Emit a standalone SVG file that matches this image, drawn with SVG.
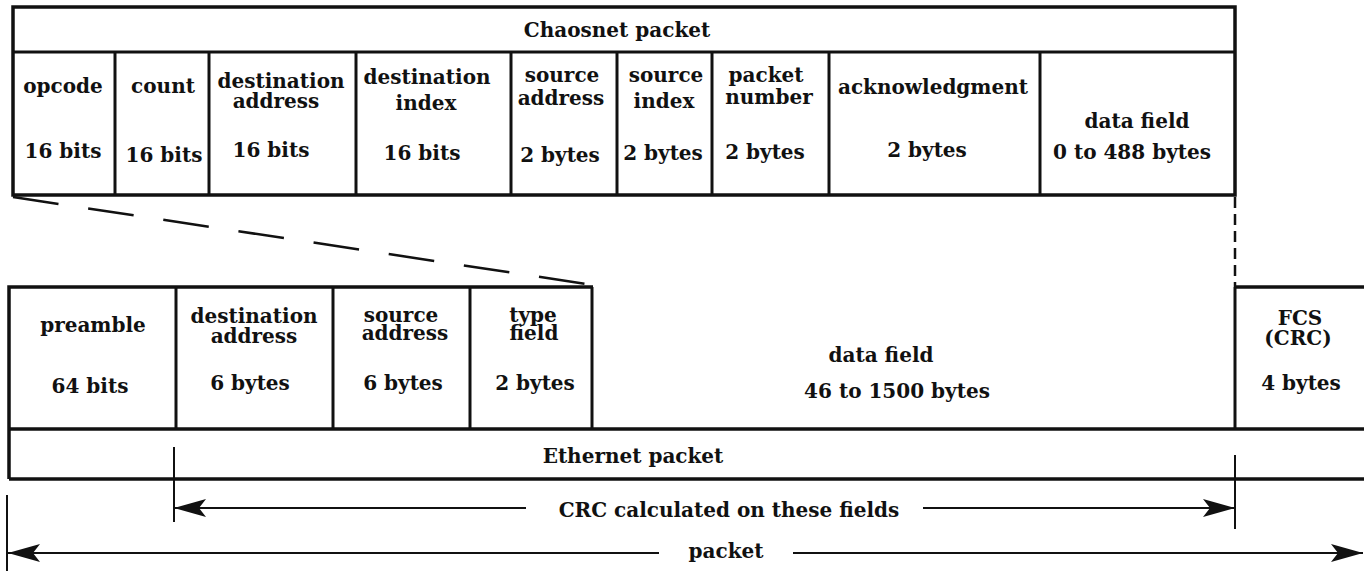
<svg xmlns="http://www.w3.org/2000/svg" width="1364" height="571" viewBox="0 0 1364 571">
  <style>
    .box { fill: none; stroke: #111; stroke-width: 3.5; }
    .div { stroke: #111; stroke-width: 3; }
    .thin { stroke: #111; stroke-width: 2; }
    .dash { stroke: #111; stroke-width: 2.5; fill: none; }
    .arr { stroke: #111; stroke-width: 2; marker-end: url(#head); }
    text { font-family: "DejaVu Serif", "Liberation Serif", serif; font-size: 20px; font-weight: bold; fill: #111; text-anchor: middle; }
  </style>
  <defs>
    <marker id="head" markerUnits="userSpaceOnUse" viewBox="0 0 32 18" refX="32" refY="9" markerWidth="32" markerHeight="18" orient="auto">
      <path d="M0,0 L32,9 L0,18 L7,9 Z" fill="#111"/>
    </marker>
  </defs>
  <rect width="1364" height="571" fill="#fff"/>

  <!-- Chaosnet packet frame -->
  <g id="chaosnet">
    <rect class="box" x="13" y="7" width="1222" height="188"/>
    <line class="div" x1="13" y1="52" x2="1235" y2="52"/>
    <text x="617" y="37">Chaosnet packet</text>
  </g>
  <g id="c-opcode">
    <line class="div" x1="115" y1="52" x2="115" y2="195"/>
    <text x="63" y="93">opcode</text>
    <text x="63" y="158">16 bits</text>
  </g>
  <g id="c-count">
    <line class="div" x1="209" y1="52" x2="209" y2="195"/>
    <text x="163" y="93">count</text>
    <text x="164" y="162">16 bits</text>
  </g>
  <g id="c-dest-addr">
    <line class="div" x1="356" y1="52" x2="356" y2="195"/>
    <text x="281" y="88">destination</text>
    <text x="276" y="108">address</text>
    <text x="271" y="157">16 bits</text>
  </g>
  <g id="c-dest-index">
    <line class="div" x1="511" y1="52" x2="511" y2="195"/>
    <text x="427" y="84">destination</text>
    <text x="426" y="110">index</text>
    <text x="422" y="160">16 bits</text>
  </g>
  <g id="c-src-addr">
    <line class="div" x1="617" y1="52" x2="617" y2="195"/>
    <text x="562" y="82">source</text>
    <text x="561" y="105">address</text>
    <text x="560" y="162">2 bytes</text>
  </g>
  <g id="c-src-index">
    <line class="div" x1="712" y1="52" x2="712" y2="195"/>
    <text x="666" y="82">source</text>
    <text x="664" y="108">index</text>
    <text x="663" y="160">2 bytes</text>
  </g>
  <g id="c-packet-number">
    <line class="div" x1="829" y1="52" x2="829" y2="195"/>
    <text x="766" y="82">packet</text>
    <text x="769" y="104">number</text>
    <text x="765" y="159">2 bytes</text>
  </g>
  <g id="c-ack">
    <line class="div" x1="1040" y1="52" x2="1040" y2="195"/>
    <text x="933" y="94">acknowledgment</text>
    <text x="927" y="157">2 bytes</text>
  </g>
  <g id="c-data">
    <text x="1137" y="128">data field</text>
    <text x="1132" y="159">0 to 488 bytes</text>
  </g>

  <!-- Ethernet packet frame -->
  <g id="ethernet">
    <polyline class="box" points="593,287 9,287 9,479"/>
    <line class="box" x1="1235" y1="287" x2="1364" y2="287"/>
    <line class="box" x1="9" y1="429" x2="1364" y2="429"/>
    <line class="box" x1="9" y1="479" x2="1364" y2="479"/>
    <text x="633" y="463">Ethernet packet</text>
  </g>
  <g id="e-preamble">
    <line class="div" x1="176" y1="287" x2="176" y2="429"/>
    <text x="93" y="332">preamble</text>
    <text x="90" y="393">64 bits</text>
  </g>
  <g id="e-dest-addr">
    <line class="div" x1="333" y1="287" x2="333" y2="429"/>
    <text x="254" y="323">destination</text>
    <text x="254" y="343">address</text>
    <text x="250" y="390">6 bytes</text>
  </g>
  <g id="e-src-addr">
    <line class="div" x1="470" y1="287" x2="470" y2="429"/>
    <text x="401" y="322">source</text>
    <text x="405" y="340">address</text>
    <text x="403" y="390">6 bytes</text>
  </g>
  <g id="e-type">
    <line class="div" x1="592" y1="287" x2="592" y2="429"/>
    <text x="533" y="322">type</text>
    <text x="534" y="340">field</text>
    <text x="535" y="390">2 bytes</text>
  </g>
  <g id="e-data">
    <text x="881" y="362">data field</text>
    <text x="897" y="398">46 to 1500 bytes</text>
  </g>
  <g id="e-fcs">
    <line class="div" x1="1235" y1="287" x2="1235" y2="429"/>
    <text x="1300" y="325">FCS</text>
    <text x="1298" y="345">(CRC)</text>
    <text x="1301" y="390">4 bytes</text>
  </g>

  <!-- connectors: expansion guides and span arrows -->
  <g id="connectors">
    <line class="dash" x1="13" y1="197" x2="593" y2="285" stroke-dasharray="46 30"/>
    <line class="dash" x1="1235" y1="197" x2="1235" y2="287" stroke-dasharray="11 6"/>

    <line class="thin" x1="174" y1="447" x2="174" y2="522"/>
    <line class="thin" x1="1235" y1="455" x2="1235" y2="529"/>
    <line class="arr" x1="526" y1="508" x2="174" y2="508"/>
    <line class="arr" x1="923" y1="508" x2="1235" y2="508"/>
    <text x="729" y="517">CRC calculated on these fields</text>

    <line class="thin" x1="7" y1="495" x2="7" y2="571"/>
    <line class="arr" x1="659" y1="553" x2="8" y2="553"/>
    <line class="arr" x1="793" y1="553" x2="1363" y2="553"/>
    <text x="726" y="558">packet</text>
  </g>
</svg>
